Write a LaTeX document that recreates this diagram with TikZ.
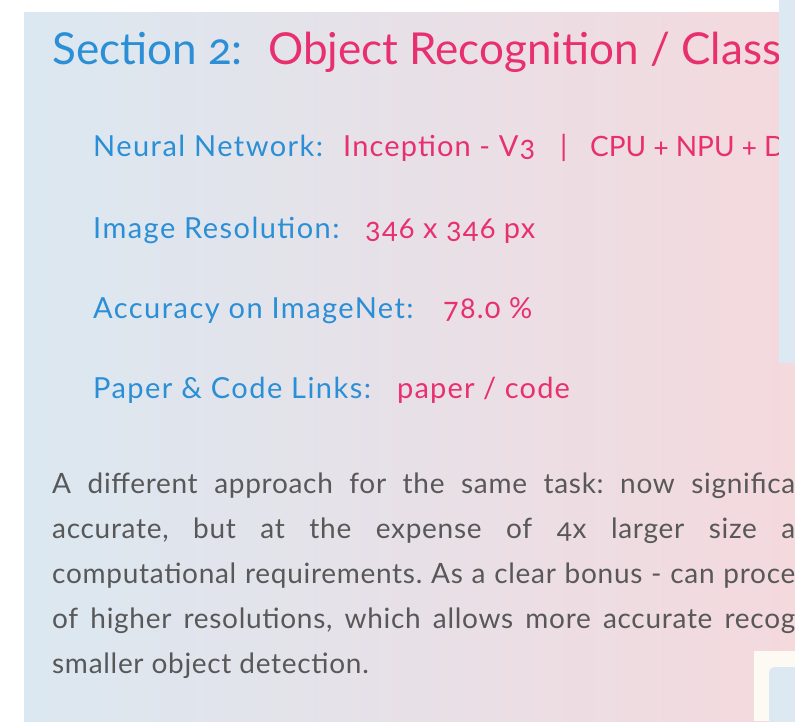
\documentclass[tikz,border=0pt]{standalone}
\usepackage{fontspec}
\setmainfont{Lato}[Numbers=OldStyle]
\usetikzlibrary{positioning}
\definecolor{sectionblue}{RGB}{42, 143, 214}
\definecolor{accentpink}{RGB}{232, 48, 111}
\definecolor{bodygray}{RGB}{88, 88, 88}
\definecolor{bgblue}{RGB}{219, 232, 241}
\definecolor{bgpink}{RGB}{244, 217, 221}
\definecolor{panelblue}{RGB}{220, 232, 242}
\definecolor{paneloff}{RGB}{253, 250, 244}
\frenchspacing

\begin{document}
\begin{tikzpicture}[x=1pt, y=-1pt,
    heading/.style={anchor=base west, inner sep=0pt, font=\fontsize{44}{44}\selectfont},
    itemkey/.style={anchor=base west, inner sep=0pt, text=sectionblue, font=\fontsize{29}{29}\selectfont\addfontfeatures{LetterSpace=5}},
    itemval/.style={anchor=base west, inner sep=0pt, text=accentpink, font=\fontsize{29}{29}\selectfont\addfontfeatures{LetterSpace=4}},
    bodyline/.style={anchor=base west, inner sep=0pt, text=bodygray, font=\fontsize{28}{28}\selectfont\addfontfeatures{LetterSpace=2.5}}
]
    \useasboundingbox (0,0) rectangle (795,721);

    % Background card
    \shade[left color=bgblue, right color=bgpink] (24,12) rectangle (795,721);

    % Title
    \node[heading, text=sectionblue] (sec) at (52,64) {Section 2:};
    \node[heading, text=accentpink] (topic) at (268,64) {Object Recognition / Class};

    % Network
    \node[itemkey] (netkey) at (93,156) {Neural Network:};
    \node[itemval] (netval) at (343,156) {Inception - V3};
    \node[itemval] (netsep) at (560,156) {|};
    \node[itemval, font=\fontsize{28}{28}\selectfont] (nethw) at (590,156) {CPU + NPU + D};

    % Resolution
    \node[itemkey] (reskey) at (93,238) {Image Resolution:};
    \node[itemval] (resval) at (365,238) {346 x 346 px};

    % Accuracy
    \node[itemkey] (acckey) at (93,318) {Accuracy on ImageNet:};
    \node[itemval] (accval) at (443,318) {78.0 \%};

    % Links
    \node[itemkey] (linkkey) at (93,398) {Paper \& Code Links:};
    \node[itemval] (linkval) at (397,398) {paper / code};

    % Description
    \node[bodyline] (line1) at (52,493) {\makebox[743pt][s]{A different approach for the same task: now significa}};
    \node[bodyline] (line2) at (52,538) {\makebox[743pt][s]{accurate, but at the expense of 4x larger size a}};
    \node[bodyline] (line3) at (52,583) {\makebox[743pt][s]{computational requirements. As a clear bonus - can proce}};
    \node[bodyline] (line4) at (52,628) {\makebox[743pt][s]{of higher resolutions, which allows more accurate recog}};
    \node[bodyline] (line5) at (52,673) {smaller object detection.};

    % Neighbouring panels
    \fill[panelblue] (779,0) rectangle (795,363);
    \fill[paneloff] (754,651) rectangle (795,721);
    \fill[panelblue, rounded corners=6pt] (769,667) rectangle (810,740);
\end{tikzpicture}
\end{document}
